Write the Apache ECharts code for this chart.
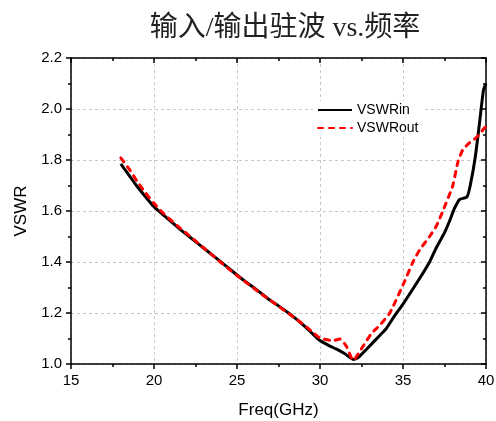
<!DOCTYPE html>
<html>
<head>
<meta charset="utf-8">
<script src="https://cdn.jsdelivr.net/npm/echarts@6/dist/echarts.min.js"></script>
<style>
  html, body { margin: 0; padding: 0; background: #fff; }
  #chart { width: 496px; height: 421px; }
</style>
</head>
<body>
<div id="chart"></div>
<script>
// input VSWR (black solid)
var freqIn = [18.0, 18.5, 19.0, 19.5, 20.0, 20.5, 21.0, 21.5, 22.0, 22.5, 23.0, 23.5, 24.0, 24.5, 25.0,
  25.5, 26.0, 26.5, 27.0, 27.5, 28.0, 28.5, 29.0, 29.5, 30.0, 30.6, 31.0, 31.5, 32.0, 32.3, 32.8,
  33.6, 34.0, 34.5, 35.0, 35.5, 36.0, 36.6, 37.0, 37.5, 37.8, 38.1, 38.4, 38.85, 39.05, 39.35, 39.6, 39.85, 40.0];
var vswrIn = [1.785, 1.74, 1.695, 1.655, 1.617, 1.588, 1.56, 1.532, 1.506, 1.48, 1.454, 1.428, 1.402, 1.376, 1.349,
  1.324, 1.30, 1.275, 1.25, 1.228, 1.205, 1.18, 1.152, 1.122, 1.092, 1.07, 1.058, 1.04, 1.018, 1.025, 1.058,
  1.112, 1.14, 1.19, 1.235, 1.285, 1.335, 1.40, 1.455, 1.515, 1.56, 1.61, 1.645, 1.655, 1.70, 1.81, 1.94, 2.075, 2.10];

// output VSWR (red dashed)
var freqOut = [18.0, 18.5, 19.0, 19.5, 20.0, 20.5, 21.0, 21.5, 22.0, 22.5, 23.0, 23.5, 24.0, 24.5, 25.0,
  25.5, 26.0, 26.5, 27.0, 27.5, 28.0, 28.5, 29.0, 29.5, 30.0, 30.8, 31.2, 31.6, 32.0, 32.5, 33.1,
  33.6, 34.2, 35.0, 35.6, 36.0, 36.6, 37.0, 37.4, 38.0, 38.3, 38.6, 39.0, 39.45, 39.9, 40.0];
var vswrOut = [1.808, 1.765, 1.715, 1.67, 1.63, 1.595, 1.565, 1.537, 1.51, 1.483, 1.455, 1.428, 1.40, 1.373, 1.347,
  1.322, 1.298, 1.273, 1.25, 1.227, 1.203, 1.18, 1.155, 1.128, 1.102, 1.092, 1.098, 1.068, 1.015, 1.06, 1.12,
  1.152, 1.20, 1.31, 1.40, 1.447, 1.50, 1.54, 1.60, 1.70, 1.79, 1.84, 1.867, 1.89, 1.925, 1.93];

var seriesNames = ["VSWRin", "VSWRout"];

function pairs(xs, ys) {
  var out = [];
  for (var i = 0; i < xs.length; i++) out.push([xs[i], ys[i]]);
  return out;
}

var font = "Arial, 'Liberation Sans', sans-serif";
var axisLine = { show: true, onZero: false, lineStyle: { color: "#000", width: 1.5 } };

var chart = echarts.init(document.getElementById("chart"));
chart.setOption({
  animation: false,
  title: {
    text: "输入/输出驻波 vs.频率",
    left: 280,
    top: 10,
    textAlign: "center",
    textStyle: { fontFamily: "'Liberation Serif', 'Noto Sans CJK SC', serif", fontSize: 28, fontWeight: "normal", color: "#222" }
  },
  grid: { left: 71, right: 10, top: 58, bottom: 57, outerBoundsMode: "none", containLabel: false },
  legend: {
    data: seriesNames,
    orient: "vertical",
    left: 313,
    top: 101,
    padding: [2, 4],
    itemWidth: 34,
    itemHeight: 14,
    itemGap: 4,
    backgroundColor: "#fff",
    itemStyle: { opacity: 0 },
    textStyle: { fontFamily: font, fontSize: 14, color: "#000" }
  },
  xAxis: [{
    type: "value", min: 15, max: 40, interval: 5,
    name: "Freq(GHz)", nameLocation: "middle", nameGap: 38,
    nameTextStyle: { fontFamily: font, fontSize: 17, color: "#000" },
    axisLine: axisLine,
    axisTick: { show: true, inside: false, length: 5, lineStyle: { color: "#000", width: 1.5 } },
    minorTick: { show: true, splitNumber: 2, length: 3, lineStyle: { color: "#000", width: 1.5 } },
    axisLabel: { fontFamily: font, fontSize: 15, color: "#000", margin: 9 },
    splitLine: { show: true, lineStyle: { color: "#c8c8c8", type: [3, 3], width: 1 } }
  }, {
    type: "value", min: 15, max: 40, interval: 5, position: "top",
    axisLine: axisLine,
    axisTick: { show: true, inside: true, length: 5, lineStyle: { color: "#000", width: 1.5 } },
    minorTick: { show: true, splitNumber: 2, length: 3, lineStyle: { color: "#000", width: 1.5 } },
    axisLabel: { show: false },
    splitLine: { show: false }
  }],
  yAxis: [{
    type: "value", min: 1.0, max: 2.2, interval: 0.2,
    name: "VSWR", nameLocation: "middle", nameGap: 41,
    nameTextStyle: { fontFamily: font, fontSize: 17, color: "#000" },
    axisLine: axisLine,
    axisTick: { show: true, inside: false, length: 5, lineStyle: { color: "#000", width: 1.5 } },
    minorTick: { show: true, splitNumber: 2, length: 3, lineStyle: { color: "#000", width: 1.5 } },
    axisLabel: { fontFamily: font, fontSize: 15, color: "#000", margin: 9, formatter: function (v) { return v.toFixed(1); } },
    splitLine: { show: true, lineStyle: { color: "#c8c8c8", type: [3, 3], width: 1 } }
  }, {
    type: "value", min: 1.0, max: 2.2, interval: 0.2, position: "right",
    axisLine: axisLine,
    axisTick: { show: true, inside: true, length: 5, lineStyle: { color: "#000", width: 1.5 } },
    minorTick: { show: true, splitNumber: 2, length: 3, lineStyle: { color: "#000", width: 1.5 } },
    axisLabel: { show: false },
    splitLine: { show: false }
  }],
  series: [{
    name: seriesNames[0],
    type: "line",
    data: pairs(freqIn, vswrIn),
    showSymbol: false,
    symbol: "none",
    smooth: 0.2,
    color: "#000",
    lineStyle: { color: "#000", width: 3 },
    z: 3
  }, {
    name: seriesNames[1],
    type: "line",
    data: pairs(freqOut, vswrOut),
    showSymbol: false,
    symbol: "none",
    smooth: 0.2,
    color: "#ff0000",
    lineStyle: { color: "#ff0000", width: 3, type: [5, 6], cap: "round" },
    z: 4
  }]
});
</script>
</body>
</html>
